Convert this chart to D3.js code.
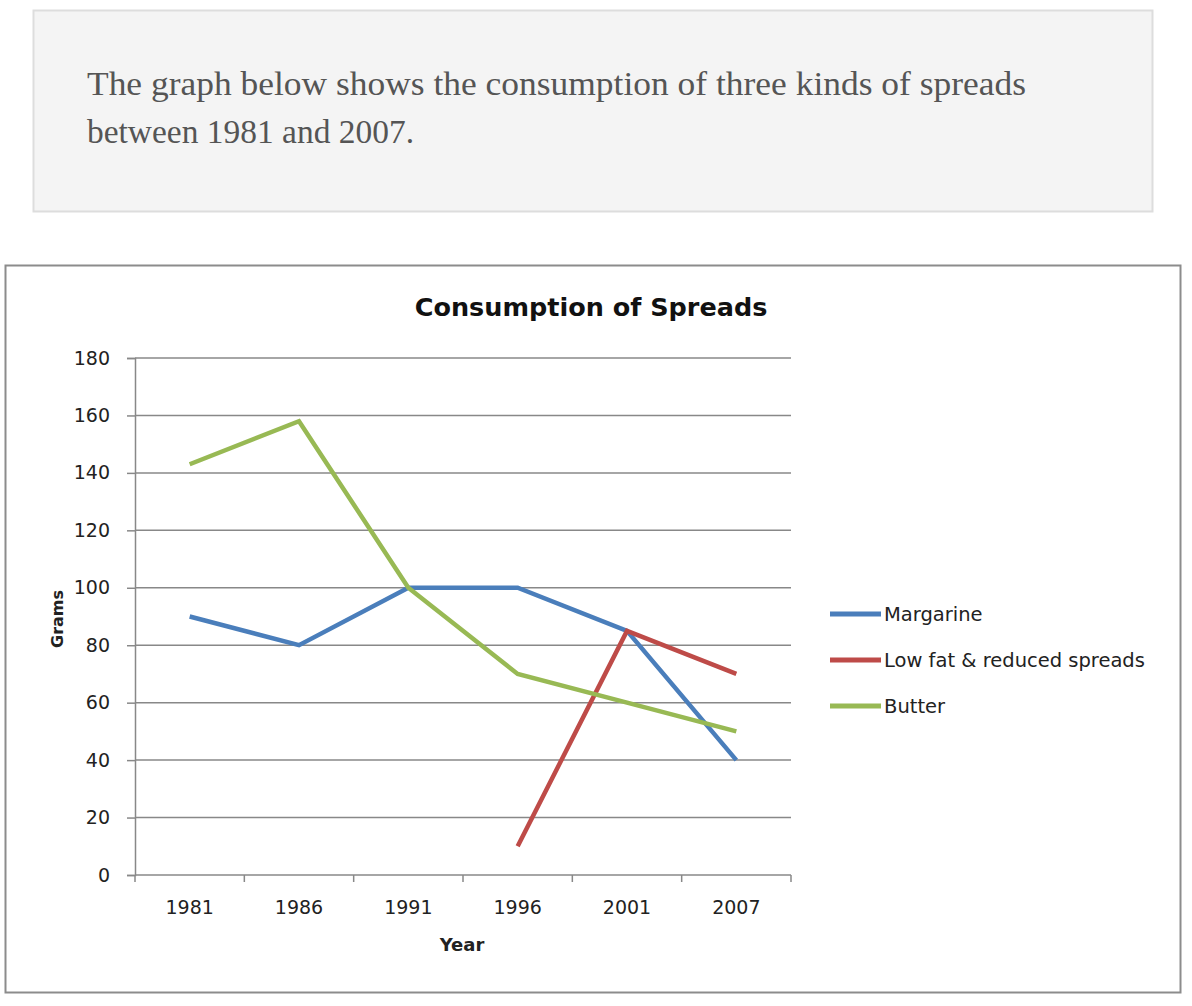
<!DOCTYPE html>
<html>
<head>
<meta charset="utf-8">
<script src="https://cdn.jsdelivr.net/npm/d3@7"></script>
<style>
  body { margin: 0; background: #fff; }
  svg { display: block; }
</style>
</head>
<body>
<script>
let width = 1192,
    height = 1006;

// data
let years = ["1981", "1986", "1991", "1996", "2001", "2007"];
let margarine = [90, 80, 100, 100, 85, 40];
let lowFat = [null, null, null, 10, 85, 70];
let butter = [143, 158, 100, 70, 60, 50];
let seriesNames = ["Margarine", "Low fat & reduced spreads", "Butter"];
let seriesColors = ["#4a7ebb", "#be4b48", "#98b954"];
let yTicks = [0, 20, 40, 60, 80, 100, 120, 140, 160, 180];

let font = "DejaVu Sans, sans-serif";

let svg = d3.select("body").append("svg")
    .attr("width", width)
    .attr("height", height);

// intro box
svg.append("rect")
    .attr("x", 33.5).attr("y", 10.5)
    .attr("width", 1119).attr("height", 201)
    .attr("fill", "#f4f4f4")
    .attr("stroke", "#dddddd")
    .attr("stroke-width", 2);

let intro = ["The graph below shows the consumption of three kinds of spreads",
             "between 1981 and 2007."];
let introWidths = [939, 327];
svg.selectAll(".intro")
    .data(intro)
    .enter().append("text")
    .attr("class", "intro")
    .attr("x", 87)
    .attr("y", (d, i) => 95 + i * 48)
    .attr("fill", "#555")
    .attr("font-family", "Liberation Serif, serif")
    .attr("font-size", 34)
    .attr("textLength", (d, i) => introWidths[i])
    .attr("lengthAdjust", "spacingAndGlyphs")
    .text(d => d)

// chart frame
svg.append("rect")
    .attr("x", 5.5).attr("y", 265.5)
    .attr("width", 1175).attr("height", 727)
    .attr("fill", "#fff")
    .attr("stroke", "#8c8c8c")
    .attr("stroke-width", 2);

svg.append("text")
    .attr("x", 591).attr("y", 316)
    .attr("text-anchor", "middle")
    .attr("font-family", font)
    .attr("font-weight", "bold")
    .attr("font-size", 25.5)
    .attr("fill", "#111")
    .text("Consumption of Spreads")

let x = d3.scaleBand().domain(years).range([135, 791]);
let y = d3.scaleLinear().domain([0, 180]).range([875, 358]);

// gridlines
svg.selectAll(".grid")
    .data(yTicks.filter(d => d > 0))
    .enter().append("line")
    .attr("class", "grid")
    .attr("x1", 135).attr("x2", 791)
    .attr("y1", d => y(d)).attr("y2", d => y(d))
    .attr("stroke", "#888")
    .attr("stroke-width", 1.5)

let yAxis = svg.append("g")
    .attr("transform", "translate(135,0)")
    .call(d3.axisLeft(y).tickValues(yTicks).tickSize(8).tickPadding(17));
let xAxis = svg.append("g")
    .attr("transform", "translate(0,875)")
    .call(d3.axisBottom(x).tickSize(0).tickPadding(26));

// category boundary ticks
svg.selectAll(".xtick")
    .data(d3.range(years.length + 1))
    .enter().append("line")
    .attr("class", "xtick")
    .attr("x1", i => 135 + i * x.step()).attr("x2", i => 135 + i * x.step())
    .attr("y1", 875).attr("y2", 882)
    .attr("stroke", "#888")
    .attr("stroke-width", 1.5)

for (let ax of [yAxis, xAxis]) {
    ax.selectAll("path, line").attr("stroke", "#888").attr("stroke-width", 1.5);
    ax.selectAll("text")
        .attr("font-family", font)
        .attr("font-size", 19)
        .attr("fill", "#222");
}
xAxis.select(".domain").attr("d", "M135,0H791");

svg.append("text")
    .attr("x", 462).attr("y", 951)
    .attr("text-anchor", "middle")
    .attr("font-family", font)
    .attr("font-weight", "bold")
    .attr("font-size", 18)
    .attr("fill", "#222")
    .text("Year")

svg.append("text")
    .attr("transform", "translate(63,619) rotate(-90)")
    .attr("text-anchor", "middle")
    .attr("font-family", font)
    .attr("font-weight", "bold")
    .attr("font-size", 16)
    .attr("fill", "#222")
    .text("Grams")

let series = [margarine, lowFat, butter];
let line = d3.line()
    .defined(d => d.v != null)
    .x(d => x(d.year) + x.bandwidth() / 2)
    .y(d => y(d.v));

svg.selectAll(".series")
    .data(series)
    .enter().append("path")
    .attr("class", "series")
    .attr("fill", "none")
    .attr("stroke", (d, i) => seriesColors[i])
    .attr("stroke-width", 4.5)
    .attr("d", d => line(d.map((v, j) => ({year: years[j], v: v}))))

// legend
let legend = svg.selectAll(".legend")
    .data(seriesNames)
    .enter().append("g")
    .attr("class", "legend")
    .attr("transform", (d, i) => "translate(830," + (614 + i * 46) + ")")
legend.append("line")
    .attr("x1", 0).attr("x2", 51)
    .attr("stroke", (d, i) => seriesColors[i])
    .attr("stroke-width", 5)
legend.append("text")
    .attr("x", 54).attr("dy", "0.35em")
    .attr("font-family", font)
    .attr("font-size", 19.5)
    .attr("fill", "#222")
    .text(d => d)
</script>
</body>
</html>
